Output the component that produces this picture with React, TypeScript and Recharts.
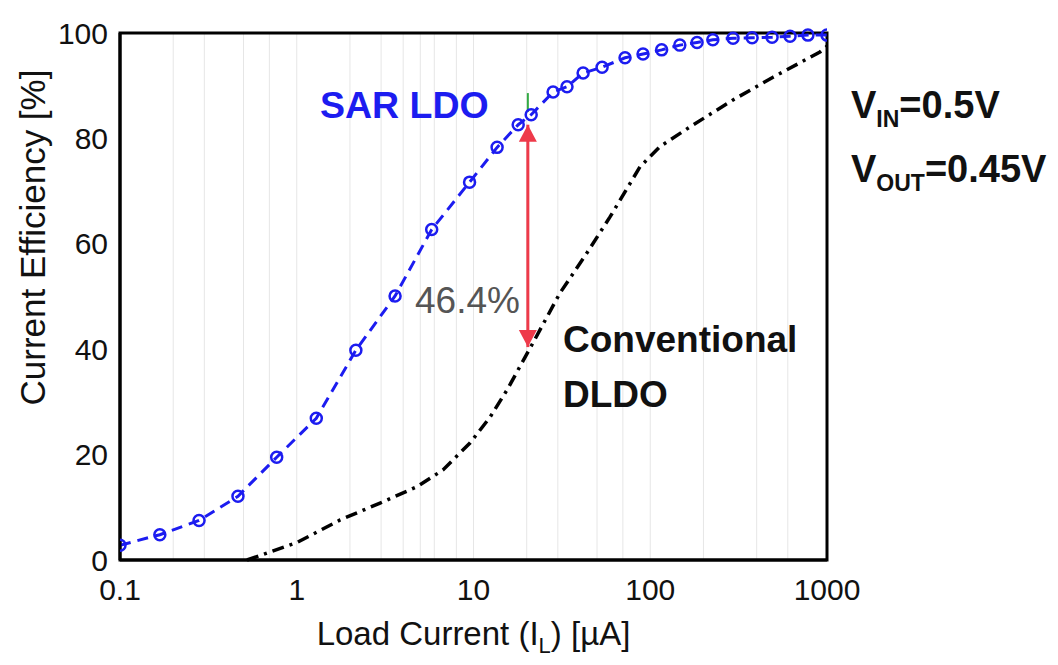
import React from 'react';
import {
  LineChart, Line, XAxis, YAxis, CartesianGrid, ReferenceArea, Customized, Label,
} from 'recharts';

// ---------- data ----------
const sarX = [0.1, 0.168, 0.28, 0.465, 0.77, 1.29, 2.16, 3.6, 5.8, 9.5, 13.6, 17.9, 21.2, 28.2, 33.8, 41.7, 53.4, 72, 91, 116, 147, 184, 226, 294, 377, 489, 618, 780, 1000];
const sarY = [2.8, 4.8, 7.5, 12.1, 19.5, 26.9, 39.8, 50.1, 62.7, 71.7, 78.3, 82.6, 84.5, 88.8, 89.8, 92.4, 93.5, 95.3, 96.0, 96.8, 97.7, 98.2, 98.7, 99.0, 99.1, 99.2, 99.4, 99.6, 99.6];

const dldoX = [0.523, 1.0, 1.76, 2.96, 4.79, 6.72, 9.55, 12.4, 15.5, 21.7, 30.9, 43.9, 59.2, 87.5, 113, 168, 294, 495, 912, 1000];
const dldoY = [0, 3.3, 7.6, 10.8, 13.9, 17.1, 22.2, 27.1, 32.3, 41.2, 50.7, 58.3, 65.1, 74.6, 78.4, 82.2, 87.3, 91.6, 96.4, 97.5];

const arrowX = [20.3, 20.3];
const arrowY = [82.6, 40.4];
const markX = [20.3, 20.3];
const markY = [88.6, 85.0];

const xTicks = [0.1, 1, 10, 100, 1000];
const yTicks = [0, 20, 40, 60, 80, 100];
const gridXTicks = [0.1, 0.2, 0.3, 0.4, 0.5, 0.6, 0.7, 0.8, 0.9, 1, 2, 3, 4, 5, 6, 7, 8, 9, 10, 20, 30, 40, 50, 60, 70, 80, 90, 100, 200, 300, 400, 500, 600, 700, 800, 900, 1000];
const gridYTicks = [0, 10, 20, 30, 40, 50, 60, 70, 80, 90, 100];

const sarData = sarX.map((x, i) => ({ x, y: sarY[i] }));
const dldoData = dldoX.map((x, i) => ({ x, y: dldoY[i] }));
const arrowData = arrowX.map((x, i) => ({ x, y: arrowY[i] }));
const markData = markX.map((x, i) => ({ x, y: markY[i] }));

// ---------- style ----------
const FONT = '"Liberation Sans", Arial, Helvetica, sans-serif';
const BLUE = '#1c1cf0';
const RED = '#ee3a4a';

const BlueDot = (props: any) => {
  const { cx, cy, index } = props;
  if (cx == null || cy == null) return null;
  return <circle key={`d${index}`} cx={cx} cy={cy} r={5.5} stroke={BLUE} strokeWidth={2.5} fill="none" />;
};

const ArrowHead = (props: any) => {
  const { cx, cy, index } = props;
  if (cx == null || cy == null) return null;
  const w = 9, h = 17;
  const pts = index === 0
    ? `${cx},${cy} ${cx - w},${cy + h} ${cx + w},${cy + h}`
    : `${cx},${cy} ${cx - w},${cy - h} ${cx + w},${cy - h}`;
  return <polygon key={`a${index}`} points={pts} fill={RED} stroke="none" />;
};

const Annotations = () => (
  <g fontFamily={FONT}>
    <text x={320} y={118} fontSize={37.5} fontWeight="bold" fill={BLUE}>SAR LDO</text>
    <text x={415} y={313} fontSize={37} fill="#555555">46.4%</text>
    <text x={563} y={352} fontSize={37} fontWeight="bold" fill="#111111">Conventional</text>
    <text x={563} y={407} fontSize={37} fontWeight="bold" fill="#111111">DLDO</text>
    <text x={851} y={118} fontSize={38} fontWeight="bold" fill="#111111">
      V<tspan fontSize={23} dy={9}>IN</tspan><tspan dy={-9}>=0.5V</tspan>
    </text>
    <text x={851} y={182} fontSize={38} fontWeight="bold" fill="#111111">
      V<tspan fontSize={23} dy={9}>OUT</tspan><tspan dy={-9}>=0.45V</tspan>
    </text>
  </g>
);

const XLabel = (props: any) => {
  const vb = props.viewBox || {};
  const cx = (vb.x ?? 120) + (vb.width ?? 707) / 2;
  return (
    <text x={cx} y={645} textAnchor="middle" fontFamily={FONT} fontSize={33} fill="#111111">
      Load Current (I<tspan fontSize={22} dy={8}>L</tspan><tspan dy={-8}>) [µA]</tspan>
    </text>
  );
};

const YLabel = (props: any) => {
  const vb = props.viewBox || {};
  const cy = (vb.y ?? 33) + (vb.height ?? 527) / 2;
  return (
    <text x={45} y={cy - 59} textAnchor="middle" fontFamily={FONT} fontSize={35} fill="#111111"
      transform={`rotate(-90, 45, ${cy - 59})`}>
      Current Efficiency [%]
    </text>
  );
};

export default function App() {
  return (
    <div style={{ position: 'absolute', left: 0, top: 0, background: '#fff' }}>
      <LineChart
        width={1058}
        height={665}
        margin={{ top: 33, right: 231, bottom: 0, left: 0 }}
      >
        <XAxis xAxisId="g" type="number" dataKey="x" scale="log" domain={[0.1, 1000]} ticks={gridXTicks} hide allowDataOverflow />
        <YAxis yAxisId="g" type="number" domain={[0, 100]} ticks={gridYTicks} hide />
        <CartesianGrid xAxisId="g" yAxisId="g" stroke="#e6e6e6" strokeWidth={1} />
        <XAxis
          type="number"
          dataKey="x"
          scale="log"
          domain={[0.1, 1000]}
          ticks={xTicks}
          allowDataOverflow
          height={105}
          tickFormatter={(v: number) => String(v)}
          tick={{ fontFamily: FONT, fontSize: 30, fill: '#111111' }}
          tickLine={false}
          tickSize={0}
          tickMargin={19}
          axisLine={{ stroke: '#000', strokeWidth: 3 }}
        >
          <Label content={<XLabel />} position="bottom" />
        </XAxis>
        <YAxis
          type="number"
          domain={[0, 100]}
          ticks={yTicks}
          width={120}
          tick={{ fontFamily: FONT, fontSize: 30, fill: '#111111' }}
          tickLine={false}
          tickSize={0}
          tickMargin={12}
          axisLine={{ stroke: '#000', strokeWidth: 3 }}
        >
          <Label content={<YLabel />} position="left" />
        </YAxis>
        <ReferenceArea x1={0.1} x2={1000} y1={0} y2={100} fill="none" stroke="#000" strokeWidth={3} ifOverflow="visible" />
        <Line
          data={dldoData}
          dataKey="y"
          type="linear"
          stroke="#000"
          strokeWidth={3.5}
          strokeDasharray="12 6 3 6"
          dot={false}
          isAnimationActive={false}
        />
        <Line
          data={sarData}
          dataKey="y"
          type="linear"
          stroke={BLUE}
          strokeWidth={3}
          strokeDasharray="11 7"
          dot={<BlueDot />}
          isAnimationActive={false}
        />
        <Line
          data={markData}
          dataKey="y"
          type="linear"
          stroke="#33aa44"
          strokeWidth={2}
          dot={false}
          isAnimationActive={false}
        />
        <Line
          data={arrowData}
          dataKey="y"
          type="linear"
          stroke={RED}
          strokeWidth={3}
          dot={<ArrowHead />}
          isAnimationActive={false}
        />
        <Customized component={Annotations} />
      </LineChart>
    </div>
  );
}
